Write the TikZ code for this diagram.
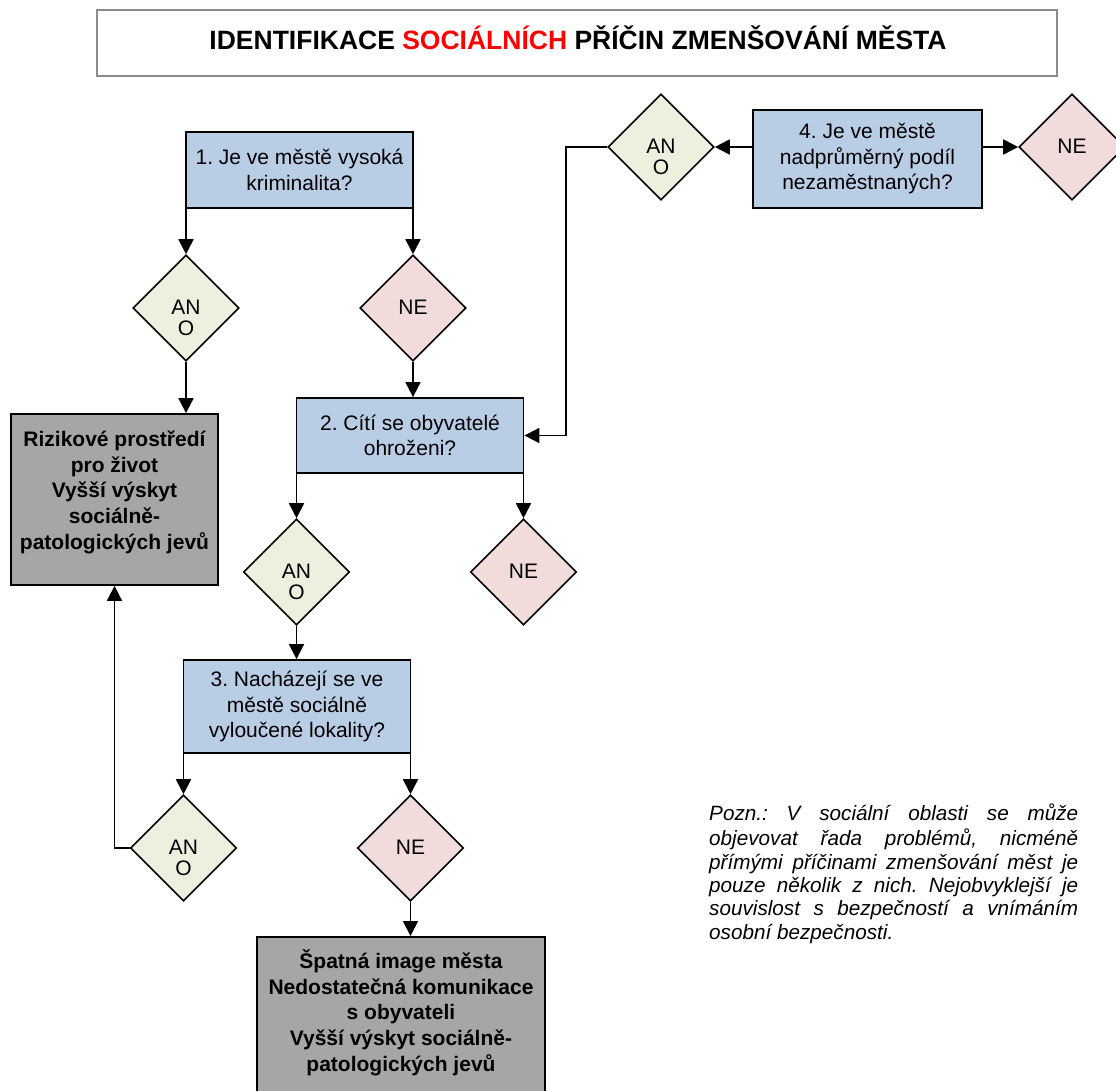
\documentclass[tikz,border=0pt]{standalone}
\usepackage{fontspec}
\setmainfont{Liberation Sans}
\usetikzlibrary{arrows.meta,shapes.geometric}
\definecolor{qblue}{HTML}{B9CDE5}
\definecolor{agreen}{HTML}{EBF1DE}
\definecolor{npink}{HTML}{F2DCDB}
\definecolor{ggrey}{HTML}{A6A6A6}
\definecolor{tgrey}{HTML}{8C8C8C}
\definecolor{tred}{HTML}{FF0000}
\frenchspacing
\begin{document}
\begin{tikzpicture}[x=1pt,y=-1pt,
  qbox/.style={draw=black, line width=1.8pt, fill=qblue, minimum width=227pt, inner sep=0pt, align=center, font=\fontsize{21}{25.5}\selectfont},
  gbox/.style={draw=black, line width=1.8pt, fill=ggrey, inner sep=0pt},
  gtxt/.style={font=\bfseries\fontsize{21}{25.6}\selectfont, align=center, inner sep=0pt},
  dia/.style={diamond, aspect=1, draw=black, line width=1.6pt, minimum width=106pt, minimum height=106pt, inner sep=0pt},
  ano/.style={dia, fill=agreen},
  neg/.style={dia, fill=npink},
  dtxt/.style={font=\fontsize{21}{25}\selectfont, inner sep=0pt},
  arr/.style={line width=1.8pt, -{Triangle[length=15pt,width=15pt]}},
  notetxt/.style={font=\itshape\fontsize{20.7}{23.4}\selectfont, align=left, inner sep=0pt}
]
\useasboundingbox (0,0) rectangle (1116,1091);
\clip (0,0) rectangle (1116,1091);

% title
\node[draw=tgrey, line width=2.5pt, minimum width=960pt, minimum height=66pt, inner sep=0pt] (title) at (577,43) {};
\node[font=\bfseries\fontsize{26.5}{30}\selectfont, inner sep=0pt] (titletext) at (578,38) {IDENTIFIKACE \textcolor{tred}{SOCIÁLNÍCH} PŘÍČIN ZMENŠOVÁNÍ MĚSTA};

% question boxes
\node[qbox, minimum height=76pt] (b1) at (299.5,170) {1. Je ve městě vysoká\\kriminalita?};
\node[qbox, minimum height=75pt] (b2) at (410,435.5) {2. Cítí se obyvatelé\\ohroženi?};
\node[qbox, minimum height=93pt] (b3) at (297,706.5) {3. Nacházejí se ve\\městě sociálně\\vyloučené lokality?};
\node[qbox, minimum width=229pt, minimum height=98pt] (b4) at (867.5,159) {4. Je ve městě\\nadprůměrný podíl\\nezaměstnaných?};

% result boxes
\node[gbox, minimum width=207pt, minimum height=171pt] (g1) at (114.5,499.5) {};
\node[gtxt, anchor=north] (g1t) at (114.5,428.6) {\strut Rizikové prostředí\\pro život\\Vyšší výskyt\\sociálně-\\patologických jevů};
\node[gbox, minimum width=288pt, minimum height=170pt, anchor=north] (g2) at (401,936) {};
\node[gtxt, anchor=north] (g2t) at (401,949.7) {\strut Špatná image města\\Nedostatečná komunikace\\s obyvateli\\Vyšší výskyt sociálně-\\patologických jevů};

% diamonds
\node[ano] (d1a) at (186,308) {};
\node[dtxt] at (186,307) {AN};
\node[dtxt] at (186,328) {O};
\node[neg] (d1n) at (413,308) {};
\node[dtxt] at (413,307) {NE};

\node[ano] (d2a) at (296.5,572) {};
\node[dtxt] at (296.5,571) {AN};
\node[dtxt] at (296.5,592) {O};
\node[neg] (d2n) at (523.5,572) {};
\node[dtxt] at (523.5,571) {NE};

\node[ano] (d3a) at (183.5,848) {};
\node[dtxt] at (183.5,847) {AN};
\node[dtxt] at (183.5,868) {O};
\node[neg] (d3n) at (410.5,848) {};
\node[dtxt] at (410.5,847) {NE};

\node[ano] (d4a) at (661,147) {};
\node[dtxt] at (661,146) {AN};
\node[dtxt] at (661,167) {O};
\node[neg] (d4n) at (1072,147) {};
\node[dtxt] at (1072,146) {NE};

% connectors
\draw[arr] (d1a.north |- b1.south) -- (d1a.north);
\draw[arr] (d1n.north |- b1.south) -- (d1n.north);
\draw[arr] (d1a.south) -- (d1a.south |- g1.north);
\draw[arr] (d1n.south) -- (d1n.south |- b2.north);
\draw[arr] (d2a.north |- b2.south) -- (d2a.north);
\draw[arr] (d2n.north |- b2.south) -- (d2n.north);
\draw[arr] (d2a.south) -- (d2a.south |- b3.north);
\draw[arr] (d3a.north |- b3.south) -- (d3a.north);
\draw[arr] (d3n.north |- b3.south) -- (d3n.north);
\draw[arr] (d3a.west) -| (g1.south);
\draw[arr] (d3n.south) -- (d3n.south |- g2.north);
\draw[arr] (b4.west |- d4a.east) -- (d4a.east);
\draw[arr] (b4.east |- d4n.west) -- (d4n.west);
\coordinate (c4) at (566,147);
\draw[arr] (d4a.west) -- (c4) |- (b2.east);

% note
\node[notetxt, anchor=north west] (note) at (709,804) {\strut\makebox[369pt][s]{Pozn.: V sociální oblasti se může}\\
\makebox[369pt][s]{objevovat řada problémů, nicméně}\\
\makebox[369pt][s]{přímými příčinami zmenšování měst je}\\
\makebox[369pt][s]{pouze několik z nich. Nejobvyklejší je}\\
\makebox[369pt][s]{souvislost s bezpečností a vnímáním}\\
osobní bezpečnosti.};
\end{tikzpicture}
\end{document}
